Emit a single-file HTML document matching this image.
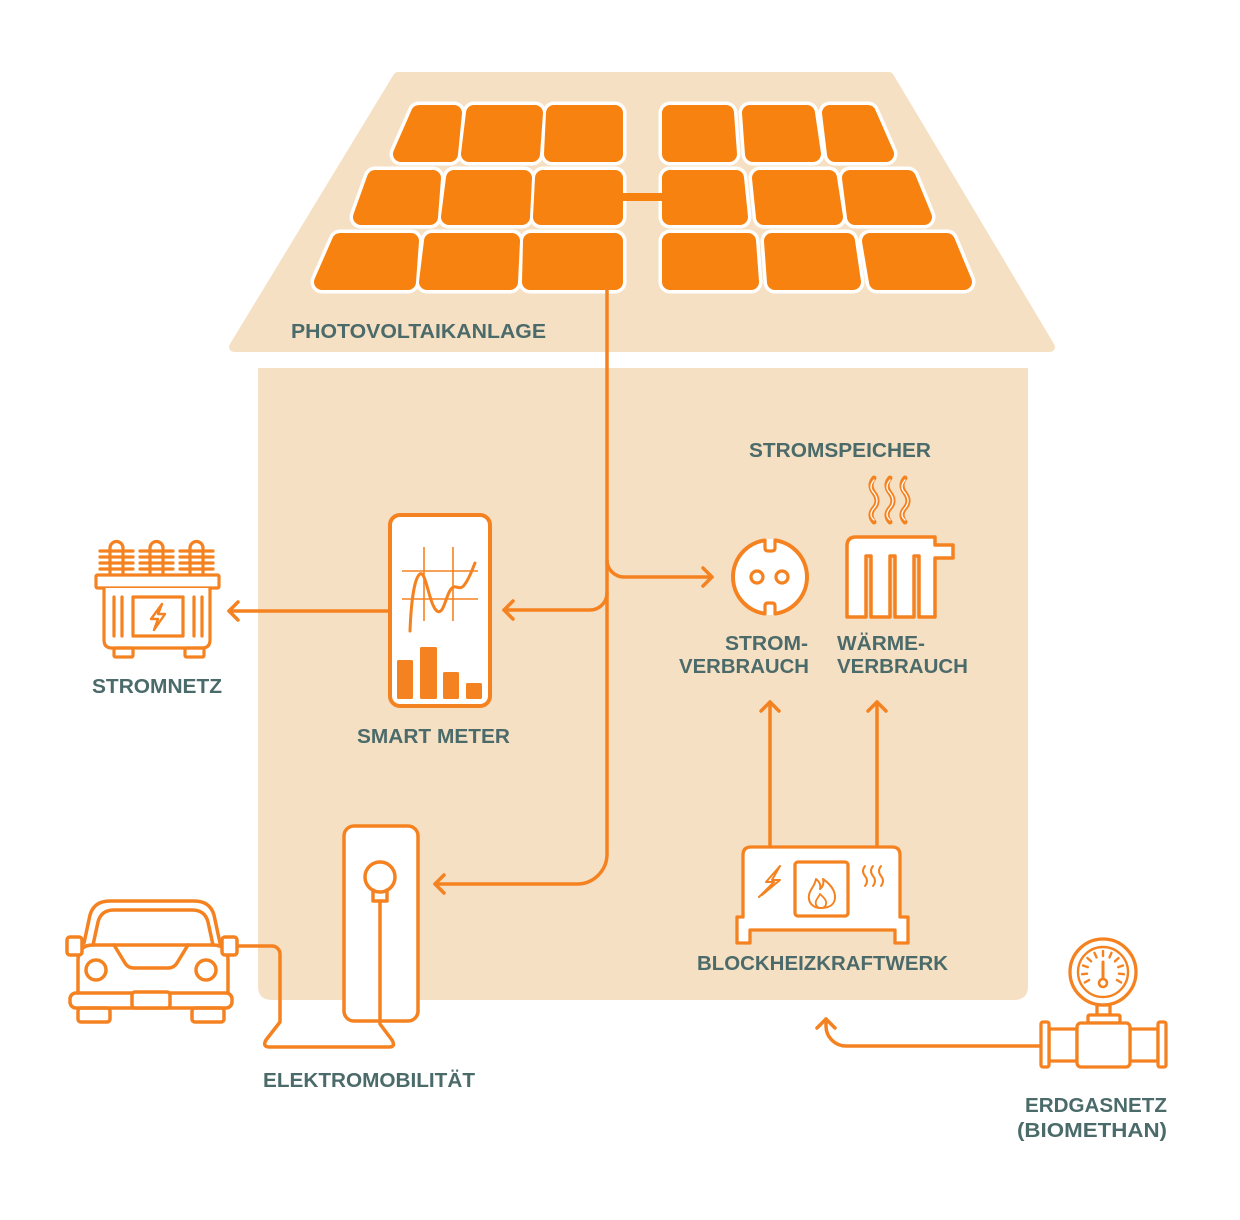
<!DOCTYPE html>
<html><head><meta charset="utf-8"><style>
html,body{margin:0;padding:0;background:#fff;}
svg{display:block;}
text{font-family:"Liberation Sans",Arial,sans-serif;font-weight:bold;font-size:20px;fill:#4b6a6a;}
</style></head><body>
<svg width="1240" height="1220" viewBox="0 0 1240 1220" xmlns="http://www.w3.org/2000/svg">
<rect width="1240" height="1220" fill="#fff"/>
<!-- roof -->
<polygon points="398,77 889,77 1050,347 234,347" fill="#f6e0c3" stroke="#f6e0c3" stroke-width="10" stroke-linejoin="round"/>
<!-- house -->
<path d="M258,368 H1028 V986 Q1028,1000 1014,1000 H272 Q258,1000 258,986 Z" fill="#f6e0c3"/>

<!-- panels: white outline -->
<g fill="#fff" stroke="#fff" stroke-width="23" stroke-linejoin="round">
<polygon points="419,113 454,113 450,154 401,154"/>
<polygon points="474,113 535,113 532,154 469,154"/>
<polygon points="554,113 615,113 615,154 552,154"/>
<polygon points="375,178 433,178 430,217 361,217"/>
<polygon points="454,178 524,178 522,217 449,217"/>
<polygon points="543,178 615,178 615,217 541,217"/>
<polygon points="340,241 411,241 408,282 322,282"/>
<polygon points="432,241 512,241 510,282 427,282"/>
<polygon points="531,241 615,241 615,282 530,282"/>
<polygon points="670,113 726,113 729,154 670,154"/>
<polygon points="750,113 807,113 813,154 753,154"/>
<polygon points="830,113 868,113 886,154 835,154"/>
<polygon points="670,178 736,178 740,217 670,217"/>
<polygon points="760,178 829,178 835,217 764,217"/>
<polygon points="850,178 908,178 924,217 855,217"/>
<polygon points="670,241 748,241 751,282 670,282"/>
<polygon points="772,241 847,241 853,282 775,282"/>
<polygon points="870,241 947,241 964,282 877,282"/>
</g>
<g fill="#f7820f" stroke="#f7820f" stroke-width="16" stroke-linejoin="round">
<polygon points="419,113 454,113 450,154 401,154"/>
<polygon points="474,113 535,113 532,154 469,154"/>
<polygon points="554,113 615,113 615,154 552,154"/>
<polygon points="375,178 433,178 430,217 361,217"/>
<polygon points="454,178 524,178 522,217 449,217"/>
<polygon points="543,178 615,178 615,217 541,217"/>
<polygon points="340,241 411,241 408,282 322,282"/>
<polygon points="432,241 512,241 510,282 427,282"/>
<polygon points="531,241 615,241 615,282 530,282"/>
<polygon points="670,113 726,113 729,154 670,154"/>
<polygon points="750,113 807,113 813,154 753,154"/>
<polygon points="830,113 868,113 886,154 835,154"/>
<polygon points="670,178 736,178 740,217 670,217"/>
<polygon points="760,178 829,178 835,217 764,217"/>
<polygon points="850,178 908,178 924,217 855,217"/>
<polygon points="670,241 748,241 751,282 670,282"/>
<polygon points="772,241 847,241 853,282 775,282"/>
<polygon points="870,241 947,241 964,282 877,282"/>
</g>
<rect x="618" y="193" width="48" height="8" fill="#f7820f"/>

<!-- connectors -->
<g fill="none" stroke="#f58220" stroke-width="3.5" stroke-linecap="round" stroke-linejoin="round">
<path d="M607,288 V854 A30,30 0 0 1 577,884 H435"/>
<path d="M444,875 L435,884 L444,893"/>
<path d="M607,560 A17,17 0 0 0 624,577 H712"/>
<path d="M703,568 L712,577 L703,586"/>
<path d="M607,593 A17,17 0 0 1 590,610 H504"/>
<path d="M513,601 L504,610 L513,619"/>
<path d="M388,611 H229"/>
<path d="M238,602 L229,611 L238,620"/>
<path d="M770,847 V702"/>
<path d="M761,711 L770,702 L779,711"/>
<path d="M877,847 V702"/>
<path d="M868,711 L877,702 L886,711"/>
<path d="M1040,1046 H846 A20,20 0 0 1 826,1026 V1019"/>
<path d="M817,1028 L826,1019 L835,1028"/>
</g>

<!-- smart meter -->
<rect x="390" y="515" width="100" height="191" rx="10" fill="#fff" stroke="#f58220" stroke-width="4"/>
<g stroke="#f58220" stroke-width="1.6" fill="none">
<line x1="402" y1="571" x2="478" y2="571"/>
<line x1="402" y1="599" x2="478" y2="599"/>
<line x1="424" y1="547" x2="424" y2="621"/>
<line x1="453" y1="547" x2="453" y2="621"/>
</g>
<path d="M410,631 C411,605 414,578 420,574 C426,570 429,605 437,611 C444,616 446,593 452,588 C456,584 460,592 465,584 C470,577 472,570 475,563" fill="none" stroke="#f58220" stroke-width="3" stroke-linecap="round"/>
<g fill="#f58220">
<rect x="397" y="660" width="16" height="39" rx="1.5"/>
<rect x="420" y="647" width="17" height="52" rx="1.5"/>
<rect x="443" y="672" width="16" height="27" rx="1.5"/>
<rect x="466" y="683" width="16" height="16" rx="1.5"/>
</g>

<!-- transformer -->
<g fill="none" stroke="#f58220" stroke-width="3.2" stroke-linecap="round" stroke-linejoin="round">
<path d="M110,575 V548 A6.5,6.5 0 0 1 123,548 V575"/>
<path d="M150,575 V548 A6.5,6.5 0 0 1 163,548 V575"/>
<path d="M190,575 V548 A6.5,6.5 0 0 1 203,548 V575"/>
<path d="M100,551 H133 M100,557 H133 M100,563 H133 M100,569 H133"/>
<path d="M140,551 H173 M140,557 H173 M140,563 H173 M140,569 H173"/>
<path d="M180,551 H213 M180,557 H213 M180,563 H213 M180,569 H213"/>
<rect x="96" y="575" width="123" height="13" rx="1.5" fill="#fff"/>
<path d="M104,588 V640 Q104,648 112,648 H202 Q210,648 210,640 V588" fill="#fff"/>
<rect x="114" y="648" width="19" height="9" rx="1.5"/>
<rect x="185" y="648" width="19" height="9" rx="1.5"/>
<rect x="133" y="597" width="50" height="39"/>
<path d="M114,597 V636 M122,597 V636 M194,597 V636 M202,597 V636"/>
<path d="M162,604 L151,619 H158 L154,630 L165,614 H158 Z" stroke-width="2.4"/>
</g>

<!-- socket -->
<circle cx="770" cy="577" r="37" fill="#fff" stroke="#f58220" stroke-width="4"/>
<rect x="765.5" y="536" width="9" height="10" fill="#f6e0c3"/>
<rect x="765.5" y="608" width="9" height="10" fill="#f6e0c3"/>
<g fill="#fff" stroke="#f58220" stroke-width="3.2" stroke-linejoin="round">
<path d="M765,539 V548 Q765,551 768,551 H772 Q775,551 775,548 V539"/>
<path d="M765,615 V606 Q765,603 768,603 H772 Q775,603 775,606 V615"/>
<circle cx="757" cy="577" r="6"/>
<circle cx="782" cy="577" r="6"/>
</g>

<!-- radiator -->
<path d="M847,617 V546 Q847,537 856,537 H935 V545 H953 V558 H935 V617 H919 V556 H914 V617 H895 V556 H890 V617 H871 V556 H866 V617 Z" fill="#fff" stroke="#f58220" stroke-width="3.5" stroke-linejoin="round"/>
<g fill="none" stroke-linecap="round">
<path d="M874,478 q-6,7 0,15 q6,8 0,15 q-6,7 0,14" stroke="#f58220" stroke-width="5"/>
<path d="M890,478 q-6,7 0,15 q6,8 0,15 q-6,7 0,14" stroke="#f58220" stroke-width="5"/>
<path d="M905,478 q-6,7 0,15 q6,8 0,15 q-6,7 0,14" stroke="#f58220" stroke-width="5"/>
<path d="M874,480 q-6,7 0,13 q6,8 0,15 q-6,7 0,12" stroke="#fff" stroke-width="1.3"/>
<path d="M890,480 q-6,7 0,13 q6,8 0,15 q-6,7 0,12" stroke="#fff" stroke-width="1.3"/>
<path d="M905,480 q-6,7 0,13 q6,8 0,15 q-6,7 0,12" stroke="#fff" stroke-width="1.3"/>
</g>

<!-- BHKW -->
<g fill="none" stroke="#f58220" stroke-width="3.3" stroke-linejoin="round" stroke-linecap="round">
<path d="M743,917 V855 Q743,847 751,847 H892 Q900,847 900,855 V917 H908 V943 H895 V930 H750 V943 H737 V917 Z" fill="#fff"/>
<rect x="795" y="862" width="53" height="54" rx="3"/>
<path d="M821,908 c-9,0 -13,-6 -12,-13 c1,-6 6,-9 7,-16 c4,3 5,7 4,10 c3,-2 4,-6 3,-10 c7,5 12,11 12,18 c0,7 -5,11 -14,11 z" stroke-width="2"/>
<path d="M821,908 c-4,0 -6,-3 -5,-7 c1,-3 3,-4 4,-7 c3,3 7,6 6,10 c0,2 -2,4 -5,4" stroke-width="1.8"/>
<path d="M780,866 L766,882 H774 L759,897 M780,866 L772,880 H780 L762,895" stroke-width="2"/>
<path d="M865,866 q-4,5 0,10 q4,5 0,10 M873,866 q-4,5 0,10 q4,5 0,10 M881,866 q-4,5 0,10 q4,5 0,10" stroke-width="2"/>
</g>

<!-- charging station -->
<g fill="none" stroke="#f58220" stroke-width="3.5" stroke-linejoin="round" stroke-linecap="round">
<rect x="344" y="826" width="74" height="195" rx="10" fill="#fff"/>
<circle cx="380" cy="877" r="15"/>
<path d="M373,890 V901 H387 V890"/>
<path d="M237,946 H272 A8,8 0 0 1 280,954 V1022 L266,1040 Q262,1047 270,1047 H389 Q396,1047 392,1040 L380,1024 V901"/>
</g>

<!-- car -->
<g fill="none" stroke="#f58220" stroke-width="3.5" stroke-linejoin="round" stroke-linecap="round">
<path d="M84,943 L90,915 Q94,901 110,901 H194 Q210,901 214,915 L220,943"/>
<path d="M93,945 L98,922 Q101,910 114,910 H192 Q205,910 208,922 L213,945"/>
<path d="M78,993 V960 Q78,945 93,945 H213 Q228,945 228,960 V993"/>
<path d="M114,945 L125,963 Q128,968 134,968 H168 Q174,968 177,963 L188,945"/>
<circle cx="96" cy="970" r="10"/>
<circle cx="206" cy="970" r="10"/>
<rect x="70" y="993" width="162" height="15" rx="6"/>
<rect x="132" y="992" width="38" height="16" rx="3" fill="#fff"/>
<rect x="78" y="1008" width="32" height="14" rx="3"/>
<rect x="192" y="1008" width="32" height="14" rx="3"/>
<rect x="67" y="937" width="15" height="18" rx="3" fill="#fff"/>
<rect x="222" y="937" width="15" height="18" rx="3" fill="#fff"/>
</g>

<!-- gas pipe + gauge -->
<g fill="#fff" stroke="#f58220" stroke-width="3.3" stroke-linejoin="round" stroke-linecap="round">
<rect x="1097" y="1005" width="13" height="10"/>
<rect x="1088" y="1015" width="32" height="8" rx="1.5"/>
<rect x="1049" y="1029" width="28" height="32"/>
<rect x="1130" y="1029" width="28" height="32"/>
<rect x="1077" y="1023" width="53" height="44" rx="4"/>
<rect x="1041" y="1022" width="8" height="45" rx="2"/>
<rect x="1158" y="1022" width="8" height="45" rx="2"/>
<circle cx="1103" cy="972" r="33"/>
<circle cx="1103" cy="972" r="25" stroke-width="2.4"/>
</g>
<g stroke="#f58220" stroke-width="2.4" stroke-linecap="round">
<line x1="1089.1" y1="980" x2="1084.8" y2="982.5"/>
<line x1="1087.1" y1="973.7" x2="1082.1" y2="974.2"/>
<line x1="1087.8" y1="967.1" x2="1083" y2="965.5"/>
<line x1="1091.1" y1="961.3" x2="1087.4" y2="958"/>
<line x1="1096.5" y1="957.4" x2="1094.5" y2="952.8"/>
<line x1="1103" y1="956" x2="1103" y2="951"/>
<line x1="1109.5" y1="957.4" x2="1111.5" y2="952.8"/>
<line x1="1114.9" y1="961.3" x2="1118.6" y2="958"/>
<line x1="1118.2" y1="967.1" x2="1123" y2="965.5"/>
<line x1="1118.9" y1="973.7" x2="1123.9" y2="974.2"/>
<line x1="1116.9" y1="980" x2="1121.2" y2="982.5"/>
<line x1="1103" y1="980" x2="1103" y2="962" stroke-width="3"/>
</g>
<circle cx="1103" cy="983" r="4" fill="#fff" stroke="#f58220" stroke-width="2.6"/>

<!-- labels -->
<text x="291" y="338" textLength="255" lengthAdjust="spacingAndGlyphs">PHOTOVOLTAIKANLAGE</text>
<text x="749" y="457" textLength="182" lengthAdjust="spacingAndGlyphs">STROMSPEICHER</text>
<text x="92" y="693" textLength="130" lengthAdjust="spacingAndGlyphs">STROMNETZ</text>
<text x="357" y="743" textLength="153" lengthAdjust="spacingAndGlyphs">SMART METER</text>
<text x="725" y="650" textLength="83" lengthAdjust="spacingAndGlyphs">STROM-</text>
<text x="679" y="673" textLength="130" lengthAdjust="spacingAndGlyphs">VERBRAUCH</text>
<text x="837" y="650" textLength="88" lengthAdjust="spacingAndGlyphs">WÄRME-</text>
<text x="837" y="673" textLength="131" lengthAdjust="spacingAndGlyphs">VERBRAUCH</text>
<text x="697" y="970" textLength="251" lengthAdjust="spacingAndGlyphs">BLOCKHEIZKRAFTWERK</text>
<text x="263" y="1087" textLength="212" lengthAdjust="spacingAndGlyphs">ELEKTROMOBILITÄT</text>
<text x="1025" y="1112" textLength="142" lengthAdjust="spacingAndGlyphs">ERDGASNETZ</text>
<text x="1017" y="1137" textLength="150" lengthAdjust="spacingAndGlyphs">(BIOMETHAN)</text>
</svg>
</body></html>
